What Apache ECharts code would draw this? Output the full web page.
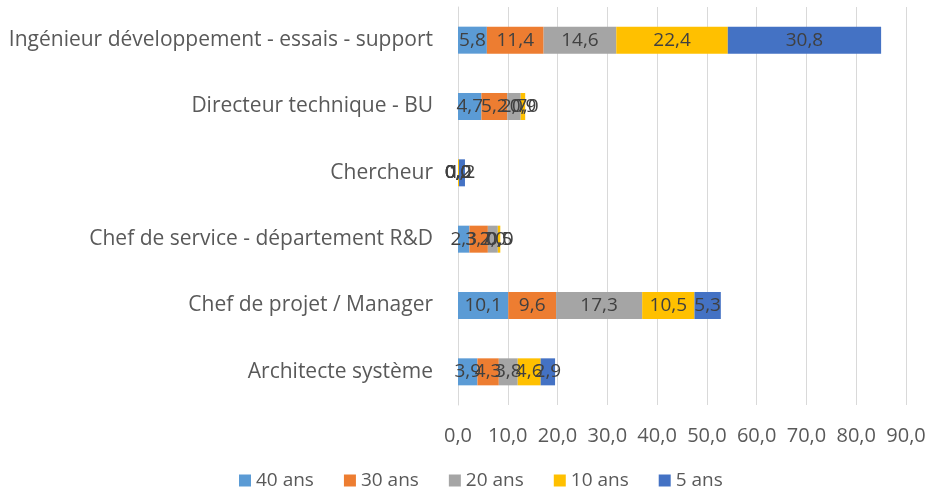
<!DOCTYPE html>
<html>
<head>
<meta charset="utf-8">
<script src="https://cdn.jsdelivr.net/npm/echarts@6/dist/echarts.min.js"></script>
<style>
html, body { margin: 0; padding: 0; background: #fff; }
#main { width: 929px; height: 496px; }
</style>
</head>
<body>
<div id="main"></div>
<script>
// catégories (de bas en haut)
var categories = ['Architecte système', 'Chef de projet / Manager', 'Chef de service - département R&D',
    'Chercheur', 'Directeur technique - BU', 'Ingénieur développement - essais - support'];
var seriesNames = ['40 ans', '30 ans', '20 ans', '10 ans', '5 ans'];
var ans40 = [3.9, 10.1, 2.3, 0.0, 4.7, 5.8];
var ans30 = [4.3, 9.6, 3.7, 0.0, 5.2, 11.4];
var ans20 = [3.8, 17.3, 2.0, 0.0, 2.7, 14.6];
var ans10 = [4.6, 10.5, 0.5, 0.2, 0.9, 22.4];
var ans5 = [2.9, 5.3, 0.0, 1.2, 0.0, 30.8];
var xTicks = [0, 10, 20, 30, 40, 50, 60, 70, 80, 90];

var colors = ['#5B9BD5', '#ED7D31', '#A5A5A5', '#FFC000', '#4472C4'];
var font = '"Open Sans", "Liberation Sans", sans-serif';

function fr(v) {
    return Number(v).toFixed(1).replace('.', ',');
}

var chart = echarts.init(document.getElementById('main'));

var allData = [ans40, ans30, ans20, ans10, ans5];
var series = allData.map(function (d, i) {
    return {
        name: seriesNames[i],
        type: 'bar',
        stack: 'total',
        barWidth: 27,
        data: d,
        itemStyle: { color: colors[i] },
        label: {
            show: true,
            position: 'inside',
            color: '#404040',
            fontFamily: font,
            fontSize: 19,
            formatter: function (p) { return fr(p.value); }
        }
    };
});

var option = {
    animation: false,
    color: colors,
    grid: { left: 458, right: 23, top: 7, bottom: 91, containLabel: false },
    xAxis: {
        type: 'value',
        min: xTicks[0],
        max: xTicks[xTicks.length - 1],
        interval: 10,
        axisLine: { show: false },
        axisTick: { show: false },
        splitLine: { show: true, lineStyle: { color: '#d9d9d9', width: 1 } },
        axisLabel: {
            color: '#595959',
            fontFamily: font,
            fontSize: 20,
            margin: 21,
            formatter: function (v) { return fr(v); }
        }
    },
    yAxis: {
        type: 'category',
        data: categories,
        axisLine: { show: true, lineStyle: { color: '#d9d9d9' } },
        axisTick: { show: false },
        axisLabel: {
            color: '#595959',
            fontFamily: font,
            fontSize: 21,
            margin: 25
        }
    },
    legend: {
        bottom: 1,
        left: 234,
        itemWidth: 12,
        itemHeight: 12,
        itemGap: 30,
        icon: 'rect',
        data: seriesNames,
        textStyle: { color: '#595959', fontFamily: font, fontSize: 19 }
    },
    series: series
};

chart.setOption(option);
</script>
</body>
</html>
